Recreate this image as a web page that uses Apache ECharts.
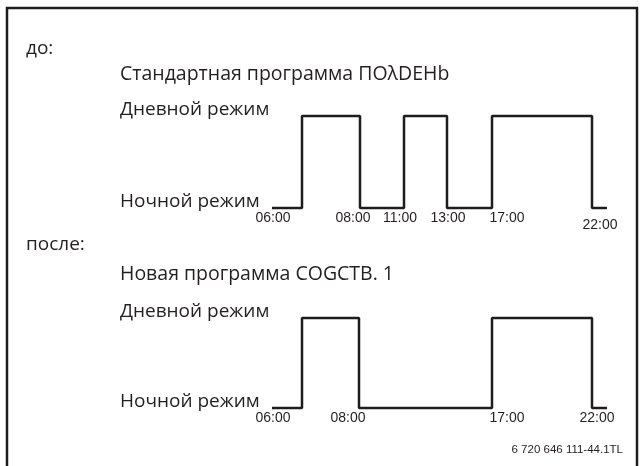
<!DOCTYPE html>
<html>
<head>
<meta charset="utf-8">
<script src="https://cdn.jsdelivr.net/npm/echarts@6/dist/echarts.min.js"></script>
<style>
  html, body { margin: 0; padding: 0; background: #fff; }
  #chart { width: 642px; height: 466px; }
</style>
</head>
<body>
<div id="chart"></div>
<script>
// schematic positions along the time strip (not to scale)
const topSwitchX = [0, 30, 88, 132, 175, 220, 320, 335];
const topLevel = [0, 1, 0, 1, 0, 1, 0, 0];
const topTickPos = [1, 81, 128, 176, 235, 328];
const topTickText = ['06:00', '08:00', '11:00', '13:00', '17:00', '22:00'];

const bottomSwitchX = [0, 30, 87, 220, 320, 335];
const bottomLevel = [0, 1, 0, 1, 0, 0];
const bottomTickPos = [1, 76, 235, 325];
const bottomTickText = ['06:00', '08:00', '17:00', '22:00'];

const levelNames = ['Ночной режим', 'Дневной режим'];

const textColor = '#231f20';
const labelFont = '"Open Sans", sans-serif';
const tickFont = '"Liberation Sans", Arial, sans-serif';

function toPairs(xs, ys) {
    return xs.map((x, i) => [x, ys[i]]);
}

function makeXAxis(gridIndex, pos, texts, lowLast) {
    return {
        type: 'value',
        gridIndex: gridIndex,
        min: 0,
        max: 335,
        axisLine: { show: false },
        axisTick: { show: false },
        splitLine: { show: false },
        axisLabel: {
            customValues: pos,
            margin: 3,
            color: textColor,
            fontFamily: tickFont,
            fontSize: 14,
            formatter: function (v) {
                const i = pos.indexOf(v);
                if (lowLast && i === pos.length - 1) {
                    return '{low|' + texts[i] + '}';
                }
                return texts[i];
            },
            rich: {
                low: { padding: [7, 0, 0, 0], fontSize: 14, fontFamily: tickFont, color: textColor }
            }
        }
    };
}

function makeYAxis(gridIndex) {
    return {
        type: 'value',
        gridIndex: gridIndex,
        min: 0,
        max: 1,
        axisLine: { show: false },
        axisTick: { show: false },
        splitLine: { show: false },
        axisLabel: {
            customValues: [0, 1],
            margin: 152,
            align: 'left',
            verticalAlign: 'bottom',
            lineHeight: 12,
            color: textColor,
            fontFamily: labelFont,
            fontSize: 19,
            formatter: function (v) { return levelNames[v]; }
        }
    };
}

function makeStep(idx, xs, ys) {
    return {
        type: 'line',
        xAxisIndex: idx,
        yAxisIndex: idx,
        step: 'end',
        symbol: 'none',
        clip: false,
        silent: true,
        lineStyle: { color: '#1e1c1d', width: 2.5 },
        data: toPairs(xs, ys)
    };
}

const chart = echarts.init(document.getElementById('chart'));
chart.setOption({
    animation: false,
    grid: [
        { left: 272, width: 335, top: 116, height: 92 },
        { left: 272, width: 335, top: 318, height: 90 }
    ],
    xAxis: [
        makeXAxis(0, topTickPos, topTickText, true),
        makeXAxis(1, bottomTickPos, bottomTickText, false)
    ],
    yAxis: [makeYAxis(0), makeYAxis(1)],
    series: [
        makeStep(0, topSwitchX, topLevel),
        makeStep(1, bottomSwitchX, bottomLevel)
    ],
    graphic: [
        // frame
        {
            type: 'polyline',
            shape: { points: [[7, 480], [7, 8], [637, 8], [637, 480]] },
            style: { stroke: '#1e1c1d', lineWidth: 2.5, fill: null }
        },
        {
            type: 'text', left: 26, top: 39,
            style: { text: 'до:', fill: textColor, font: '19px ' + labelFont }
        },
        {
            type: 'text', left: 120, top: 64,
            style: { text: 'Стандартная программа ПОλDEHb', fill: textColor, font: '19.5px ' + labelFont }
        },
        {
            type: 'text', left: 26, top: 235,
            style: { text: 'после:', fill: textColor, font: '19px ' + labelFont }
        },
        {
            type: 'text', left: 120, top: 264,
            style: { text: 'Новая программа COGCTB. 1', fill: textColor, font: '19.5px ' + labelFont }
        },
        {
            type: 'text', right: 19, top: 444,
            style: { text: '6 720 646 111-44.1TL', fill: textColor, font: '11.5px ' + tickFont }
        }
    ]
});
</script>
</body>
</html>
